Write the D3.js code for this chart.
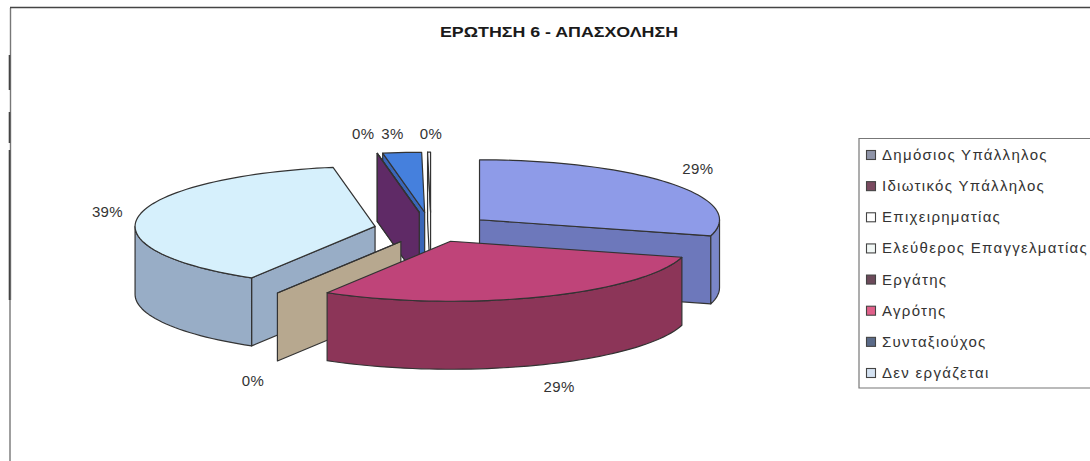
<!DOCTYPE html>
<html>
<head>
<meta charset="utf-8">
<script src="https://cdn.jsdelivr.net/npm/d3@7"></script>
<style>
html,body{margin:0;padding:0;background:#fff;overflow:hidden}
svg{display:block}
text{font-family:"Liberation Sans",Arial,sans-serif;fill:#333}
</style>
</head>
<body>
<svg id="chart" width="1090" height="461"></svg>
<script>
const titleText = "ΕΡΩΤΗΣΗ 6 - ΑΠΑΣΧΟΛΗΣΗ";
const categories = ["Δημόσιος Υπάλληλος","Ιδιωτικός Υπάλληλος","Επιχειρηματίας","Ελεύθερος Επαγγελματίας","Εργάτης","Αγρότης","Συνταξιούχος","Δεν εργάζεται"];
const values = [29.3, 29.3, 0, 38.6, 0, 0, 2.6, 0.2];
const showLabel = [true, true, true, true, true, false, true, true];

const topColors  = ["#8e9be8","#bf4479","#e8e4b8","#d6f0fc","#6a2f70","#d9648c","#4580dd","#f6f6fc"];
const wallColors = ["#7a86c8","#8c3558","#b7a88f","#98adc6","#5f2a66","#a8456a","#3a66b8","#fafafa"];
const faceColors = ["#6d78bb","#8c3558","#b7a88f","#98adc6","#5f2a66","#5f2a66","#3a66b8","#fafafa"];
const swatchColors = ["#8f94a8","#7a4a60","#ffffff","#f2f8f6","#6c4a5a","#e0608a","#5a6a88","#d4e2f2"];
const explodeBy = [0.254, 0.22, 0.244, 0.237, 0.28, 0.28, 0.28, 0.28];
const drawOrder = [7, 6, 5, 4, 0, 3, 2, 1];
const labelNudge = [[5,-4],[9,5],[-10,4],[-4,-1],[-9,-2],[0,0],[-7,-1],[2,-1]];

const W = 1090, H = 461;
const cx = 431, cy = 229, R = 240, Ry = 60, depth = 68;
const toRad = Math.PI / 180;

const svg = d3.select("#chart");
const sx = d3.scaleLinear().domain([-1, 1]).range([cx - R, cx + R]);
const sy = d3.scaleLinear().domain([-1, 1]).range([cy - Ry, cy + Ry]);
const pie = d3.pie().sort(null).value(d => d);
const arcs = pie(values);
const total = d3.sum(values);
const pct = d3.format(".0%");
const lineGen = d3.line();

function pt(arc, a, r, drop) {
  const b = (arc.startAngle + arc.endAngle) / 2;
  const e = explodeBy[arc.index];
  return [
    sx(e * Math.sin(b) + r * Math.sin(a)),
    sy(-(e * Math.cos(b) + r * Math.cos(a))) + (drop || 0)
  ];
}
function rimAngles(a0, a1) {
  const n = Math.max(1, Math.ceil((a1 - a0) / (2 * toRad)));
  return d3.range(n + 1).map(i => a0 + (a1 - a0) * i / n);
}
const poly = pts => lineGen(pts) + "Z";

// frame
svg.append("path").attr("fill", "none").attr("stroke", "#777").attr("stroke-width", 1.4)
  .attr("d", "M10.5,8V300M10,300V461");
svg.append("path").attr("fill", "none").attr("stroke", "#444").attr("stroke-width", 1.6)
  .attr("d", "M1090,7.5H10M9.5,55V90M9.5,112V143M9.5,150V300");

svg.append("text").attr("x", 559).attr("y", 37).attr("text-anchor", "middle")
  .attr("font-size", 14).attr("font-weight", "bold").style("fill", "#1a1a1a")
  .attr("textLength", 238).attr("lengthAdjust", "spacingAndGlyphs").text(titleText);

const strokeCol = "#333", strokeW = 1.2;
const gPie = svg.append("g").attr("stroke", strokeCol).attr("stroke-width", strokeW).attr("stroke-linejoin", "round");

drawOrder.forEach(i => {
  const arc = arcs[i], a0 = arc.startAngle, a1 = arc.endAngle;
  const g = gPie.append("g").attr("class", "slice");
  const face = a => [pt(arc, a, 0, 0), pt(arc, a, 1, 0), pt(arc, a, 1, depth), pt(arc, a, 0, depth)];
  if (Math.sin(a0) < -1e-6) g.append("path").attr("d", poly(face(a0))).attr("fill", faceColors[i]);
  if (Math.sin(a1) > 1e-6) g.append("path").attr("d", poly(face(a1))).attr("fill", faceColors[i]);
  const w0 = Math.max(a0, Math.PI / 2), w1 = Math.min(a1, Math.PI * 1.5);
  if (w1 > w0) {
    const ang = rimAngles(w0, w1);
    const pts = ang.map(a => pt(arc, a, 1, 0)).concat(ang.slice().reverse().map(a => pt(arc, a, 1, depth)));
    g.append("path").attr("d", poly(pts)).attr("fill", wallColors[i]);
  }
  const topPts = [pt(arc, a0, 0, 0)].concat(rimAngles(a0, a1).map(a => pt(arc, a, 1, 0)));
  g.append("path").attr("d", poly(topPts)).attr("fill", topColors[i]);
});

// data labels
arcs.forEach((arc, i) => {
  if (!showLabel[i]) return;
  const m = (arc.startAngle + arc.endAngle) / 2;
  const rim = pt(arc, m, 1, Math.cos(m) < 0 ? depth : 0);
  const lx = rim[0] + 28 * Math.sin(m);
  const ly = rim[1] - 18 * Math.cos(m);
  svg.append("text").attr("class", "label")
    .attr("x", lx + labelNudge[i][0]).attr("y", ly + labelNudge[i][1] + 5.5)
    .attr("text-anchor", "middle").attr("font-size", 15).style("letter-spacing", "0.4px")
    .text(pct(arc.value / total));
});

// legend
const legendX = 859, legendTop = 138.5, legendBottom = 388;
svg.append("path").attr("fill", "none").attr("stroke", "#777").attr("stroke-width", 1.2)
  .attr("d", `M1090,${legendTop}H${legendX}V${legendBottom}H1090`);
const rowY = d3.scalePoint().domain(categories).range([155, 373]);
const legend = svg.append("g");
categories.forEach((c, i) => {
  const y = rowY(c);
  legend.append("rect").attr("x", 866.5).attr("y", y - 4.5).attr("width", 9).attr("height", 9)
    .attr("fill", swatchColors[i]).attr("stroke", "#444").attr("stroke-width", 1.1);
  legend.append("text").attr("x", 882).attr("y", y + 5).attr("font-size", 15)
    .style("letter-spacing", "1.3px").text(c);
});
</script>
</body>
</html>
